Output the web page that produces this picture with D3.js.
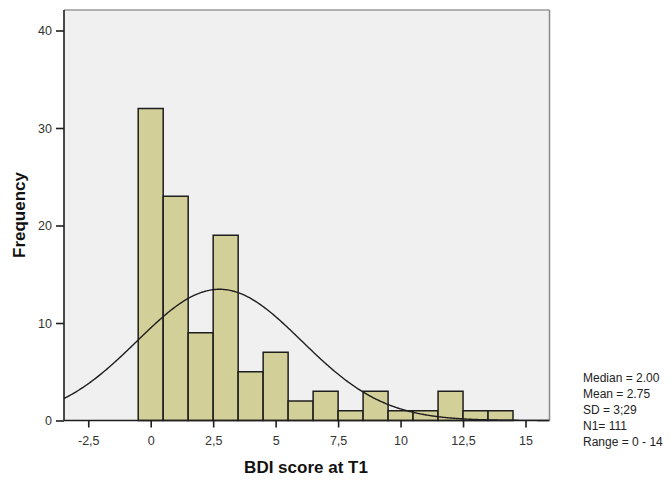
<!DOCTYPE html>
<html><head><meta charset="utf-8">
<script src="https://cdn.jsdelivr.net/npm/d3@7"></script>
<style>body{margin:0;background:#fff}svg{display:block}</style>
</head><body>
<svg id="c" width="670" height="480"></svg>
<script>
const scores = [0,1,2,3,4,5,6,7,8,9,10,11,12,13,14];
const freqs = [32,23,9,19,5,7,2,3,1,3,1,1,3,1,1];
const xTicks = [-2.5,0,2.5,5,7.5,10,12.5,15];
const yTicks = [0,10,20,30,40];
const statMean = 2.75, statSD = 3.29, statN = 111;
const statLines = ["Median = 2.00","Mean = 2.75","SD = 3;29","N1= 111","Range = 0 - 14"];

const svg = d3.select("#c");
const L = 64, R = 549.5, T = 10, B = 420.5;
const x = d3.scaleLinear().domain([-3.47, 15.96]).range([L, R]);
const y = d3.scaleLinear().domain([0, 40]).range([420.5, 30.5]);
const fmt = d => String(d).replace(".", ",");
const FONT = "Liberation Sans, Arial, sans-serif";

svg.append("rect").attr("x", L).attr("y", T).attr("width", R - L).attr("height", B - T).attr("fill", "#f0f0f0");
svg.append("line").attr("x1", L).attr("x2", R).attr("y1", T).attr("y2", T).attr("stroke", "#9a9a9a").attr("stroke-width", 1.5);
svg.append("line").attr("x1", R).attr("x2", R).attr("y1", T).attr("y2", B).attr("stroke", "#8a8a8a").attr("stroke-width", 1.5);

svg.append("g").selectAll("rect").data(scores).join("rect")
  .attr("x", d => x(d - 0.5)).attr("width", d => x(d + 0.5) - x(d - 0.5))
  .attr("y", (d, i) => y(freqs[i])).attr("height", (d, i) => y(0) - y(freqs[i]))
  .attr("fill", "#d3cf98").attr("stroke", "#1e1e1e").attr("stroke-width", 1.5);

const dens = v => statN / (statSD * Math.sqrt(2 * Math.PI)) * Math.exp(-0.5 * ((v - statMean) / statSD) ** 2);
const curveXs = d3.range(-3.47, 15.96, 0.05);
svg.append("path").datum(curveXs)
  .attr("d", d3.line().x(v => x(v)).y(v => y(dens(v))).curve(d3.curveBasis))
  .attr("fill", "none").attr("stroke", "#1e1e1e").attr("stroke-width", 1.4);

const xa = svg.append("g").attr("transform", `translate(0,${B})`)
  .call(d3.axisBottom(x).tickValues(xTicks).tickFormat(fmt).tickSize(7).tickPadding(9));
const ya = svg.append("g").attr("transform", `translate(${L},0)`)
  .call(d3.axisLeft(y).tickValues(yTicks).tickSize(8).tickPadding(4));
[xa, ya].forEach(a => {
  a.select(".domain").attr("stroke", "#1e1e1e").attr("stroke-width", 1.6);
  a.selectAll(".tick line").attr("stroke", "#1e1e1e").attr("stroke-width", 1.6);
  a.selectAll(".tick text").attr("fill", "#333").style("font-family", FONT).style("font-size", "12.5px");
});
xa.select(".domain").attr("d", `M${L},0H${R}`);
ya.select(".domain").attr("d", `M0,${T}V${B}`);

svg.append("text").attr("x", 306).attr("y", 473).attr("text-anchor", "middle")
  .style("font-family", FONT).style("font-size", "17px").style("font-weight", "bold")
  .attr("fill", "#111").text("BDI score at T1");
svg.append("text").attr("transform", "translate(25,215) rotate(-90)").attr("text-anchor", "middle")
  .style("font-family", FONT).style("font-size", "17px").style("font-weight", "bold")
  .attr("fill", "#111").text("Frequency");

svg.append("g").selectAll("text").data(statLines).join("text")
  .attr("x", 583).attr("y", (d, i) => 381.5 + i * 16.2)
  .style("font-family", FONT).style("font-size", "12px")
  .attr("fill", "#222").text(d => d);
</script>
</body></html>
